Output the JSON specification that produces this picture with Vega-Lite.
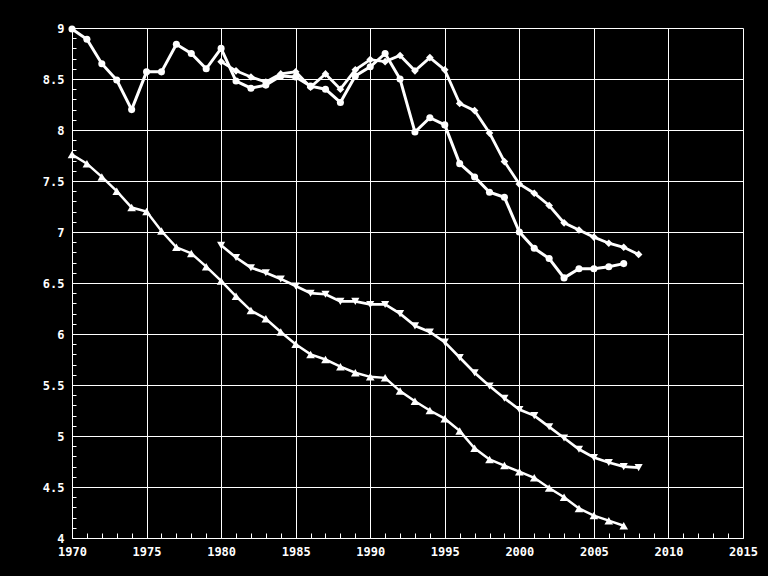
{
  "$schema": "https://vega.github.io/schema/vega-lite/v6.json",
  "width": 671,
  "height": 510,
  "autosize": {"type": "none"},
  "padding": {"left": 72, "top": 28, "right": 25, "bottom": 38},
  "background": "black",
  "config": {"view": {"stroke": null}},
  "data": {"values": [
    {"series":"A","year":1970,"value":8.99},{"series":"A","year":1971,"value":8.89},{"series":"A","year":1972,"value":8.65},{"series":"A","year":1973,"value":8.49},{"series":"A","year":1974,"value":8.2},{"series":"A","year":1975,"value":8.57},{"series":"A","year":1976,"value":8.57},{"series":"A","year":1977,"value":8.84},{"series":"A","year":1978,"value":8.75},{"series":"A","year":1979,"value":8.6},{"series":"A","year":1980,"value":8.8},{"series":"A","year":1981,"value":8.48},{"series":"A","year":1982,"value":8.41},{"series":"A","year":1983,"value":8.44},{"series":"A","year":1984,"value":8.53},{"series":"A","year":1985,"value":8.52},{"series":"A","year":1986,"value":8.43},{"series":"A","year":1987,"value":8.4},{"series":"A","year":1988,"value":8.27},{"series":"A","year":1989,"value":8.53},{"series":"A","year":1990,"value":8.62},{"series":"A","year":1991,"value":8.75},{"series":"A","year":1992,"value":8.5},{"series":"A","year":1993,"value":7.98},{"series":"A","year":1994,"value":8.12},{"series":"A","year":1995,"value":8.05},{"series":"A","year":1996,"value":7.67},{"series":"A","year":1997,"value":7.54},{"series":"A","year":1998,"value":7.39},{"series":"A","year":1999,"value":7.34},{"series":"A","year":2000,"value":7.0},{"series":"A","year":2001,"value":6.84},{"series":"A","year":2002,"value":6.74},{"series":"A","year":2003,"value":6.55},{"series":"A","year":2004,"value":6.64},{"series":"A","year":2005,"value":6.64},{"series":"A","year":2006,"value":6.66},{"series":"A","year":2007,"value":6.69},
    {"series":"B","year":1980,"value":8.67},{"series":"B","year":1981,"value":8.58},{"series":"B","year":1982,"value":8.52},{"series":"B","year":1983,"value":8.47},{"series":"B","year":1984,"value":8.55},{"series":"B","year":1985,"value":8.57},{"series":"B","year":1986,"value":8.42},{"series":"B","year":1987,"value":8.55},{"series":"B","year":1988,"value":8.4},{"series":"B","year":1989,"value":8.59},{"series":"B","year":1990,"value":8.69},{"series":"B","year":1991,"value":8.67},{"series":"B","year":1992,"value":8.73},{"series":"B","year":1993,"value":8.58},{"series":"B","year":1994,"value":8.71},{"series":"B","year":1995,"value":8.59},{"series":"B","year":1996,"value":8.26},{"series":"B","year":1997,"value":8.19},{"series":"B","year":1998,"value":7.97},{"series":"B","year":1999,"value":7.69},{"series":"B","year":2000,"value":7.47},{"series":"B","year":2001,"value":7.38},{"series":"B","year":2002,"value":7.26},{"series":"B","year":2003,"value":7.09},{"series":"B","year":2004,"value":7.02},{"series":"B","year":2005,"value":6.95},{"series":"B","year":2006,"value":6.89},{"series":"B","year":2007,"value":6.85},{"series":"B","year":2008,"value":6.78},
    {"series":"C","year":1980,"value":6.87},{"series":"C","year":1981,"value":6.75},{"series":"C","year":1982,"value":6.65},{"series":"C","year":1983,"value":6.6},{"series":"C","year":1984,"value":6.54},{"series":"C","year":1985,"value":6.47},{"series":"C","year":1986,"value":6.4},{"series":"C","year":1987,"value":6.39},{"series":"C","year":1988,"value":6.32},{"series":"C","year":1989,"value":6.32},{"series":"C","year":1990,"value":6.29},{"series":"C","year":1991,"value":6.29},{"series":"C","year":1992,"value":6.2},{"series":"C","year":1993,"value":6.08},{"series":"C","year":1994,"value":6.02},{"series":"C","year":1995,"value":5.92},{"series":"C","year":1996,"value":5.77},{"series":"C","year":1997,"value":5.62},{"series":"C","year":1998,"value":5.49},{"series":"C","year":1999,"value":5.37},{"series":"C","year":2000,"value":5.26},{"series":"C","year":2001,"value":5.2},{"series":"C","year":2002,"value":5.09},{"series":"C","year":2003,"value":4.98},{"series":"C","year":2004,"value":4.87},{"series":"C","year":2005,"value":4.79},{"series":"C","year":2006,"value":4.74},{"series":"C","year":2007,"value":4.7},{"series":"C","year":2008,"value":4.69},
    {"series":"D","year":1970,"value":7.76},{"series":"D","year":1971,"value":7.67},{"series":"D","year":1972,"value":7.54},{"series":"D","year":1973,"value":7.4},{"series":"D","year":1974,"value":7.24},{"series":"D","year":1975,"value":7.2},{"series":"D","year":1976,"value":7.01},{"series":"D","year":1977,"value":6.85},{"series":"D","year":1978,"value":6.79},{"series":"D","year":1979,"value":6.66},{"series":"D","year":1980,"value":6.52},{"series":"D","year":1981,"value":6.37},{"series":"D","year":1982,"value":6.23},{"series":"D","year":1983,"value":6.15},{"series":"D","year":1984,"value":6.02},{"series":"D","year":1985,"value":5.9},{"series":"D","year":1986,"value":5.8},{"series":"D","year":1987,"value":5.75},{"series":"D","year":1988,"value":5.68},{"series":"D","year":1989,"value":5.62},{"series":"D","year":1990,"value":5.58},{"series":"D","year":1991,"value":5.57},{"series":"D","year":1992,"value":5.44},{"series":"D","year":1993,"value":5.34},{"series":"D","year":1994,"value":5.25},{"series":"D","year":1995,"value":5.17},{"series":"D","year":1996,"value":5.05},{"series":"D","year":1997,"value":4.88},{"series":"D","year":1998,"value":4.77},{"series":"D","year":1999,"value":4.71},{"series":"D","year":2000,"value":4.65},{"series":"D","year":2001,"value":4.59},{"series":"D","year":2002,"value":4.49},{"series":"D","year":2003,"value":4.4},{"series":"D","year":2004,"value":4.29},{"series":"D","year":2005,"value":4.22},{"series":"D","year":2006,"value":4.17},{"series":"D","year":2007,"value":4.12}
  ]},
  "encoding": {
    "x": {
      "field": "year", "type": "quantitative",
      "scale": {"domain": [1970, 2015], "nice": false, "zero": false},
      "axis": {
        "title": null,
        "values": [1970,1971,1972,1973,1974,1975,1976,1977,1978,1979,1980,1981,1982,1983,1984,1985,1986,1987,1988,1989,1990,1991,1992,1993,1994,1995,1996,1997,1998,1999,2000,2001,2002,2003,2004,2005,2006,2007,2008,2009,2010,2011,2012,2013,2014,2015],
        "format": "d",
        "labelExpr": "datum.value % 5 === 0 ? datum.label : ''",
        "labelOverlap": false,
        "labelFlush": false,
        "grid": true,
        "gridColor": "white",
        "gridWidth": 1,
        "gridOpacity": {"condition": {"test": "datum.value % 5 === 0", "value": 1}, "value": 0},
        "tickSize": -5,
        "tickColor": "white",
        "tickWidth": 1,
        "domainColor": "white",
        "domainWidth": 1,
        "labelColor": "white",
        "labelFont": "DejaVu Sans Mono",
        "labelFontSize": 12,
        "labelFontWeight": "bold",
        "labelPadding": 13
      }
    },
    "y": {
      "field": "value", "type": "quantitative",
      "scale": {"domain": [4, 9], "nice": false, "zero": false},
      "axis": {
        "title": null,
        "values": [4,4.1,4.2,4.3,4.4,4.5,4.6,4.7,4.8,4.9,5,5.1,5.2,5.3,5.4,5.5,5.6,5.7,5.8,5.9,6,6.1,6.2,6.3,6.4,6.5,6.6,6.7,6.8,6.9,7,7.1,7.2,7.3,7.4,7.5,7.6,7.7,7.8,7.9,8,8.1,8.2,8.3,8.4,8.5,8.6,8.7,8.8,8.9,9],
        "format": "~g",
        "labelExpr": "round(datum.value*10) % 5 === 0 ? datum.label : ''",
        "labelOverlap": false,
        "labelFlush": false,
        "grid": true,
        "gridColor": "white",
        "gridWidth": 1,
        "gridOpacity": {"condition": {"test": "round(datum.value*10) % 5 === 0", "value": 1}, "value": 0},
        "tickSize": -4,
        "tickColor": "white",
        "tickWidth": 1,
        "domainColor": "white",
        "domainWidth": 1,
        "labelColor": "white",
        "labelFont": "DejaVu Sans Mono",
        "labelFontSize": 12,
        "labelFontWeight": "bold",
        "labelPadding": 12
      }
    }
  },
  "layer": [
    {
      "mark": {"type": "line", "color": "white"},
      "encoding": {
        "detail": {"field": "series"},
        "strokeWidth": {"field": "series", "type": "nominal", "scale": {"domain": ["A","B","C","D"], "range": [3, 2.5, 2, 2]}, "legend": null}
      }
    },
    {
      "mark": {"type": "point", "filled": true, "color": "white", "opacity": 1},
      "encoding": {
        "shape": {"field": "series", "type": "nominal", "scale": {"domain": ["A","B","C","D"], "range": ["circle", "diamond", "triangle-down", "triangle-up"]}, "legend": null},
        "size": {"field": "series", "type": "nominal", "scale": {"domain": ["A","B","C","D"], "range": [50, 75, 95, 95]}, "legend": null}
      }
    }
  ]
}
